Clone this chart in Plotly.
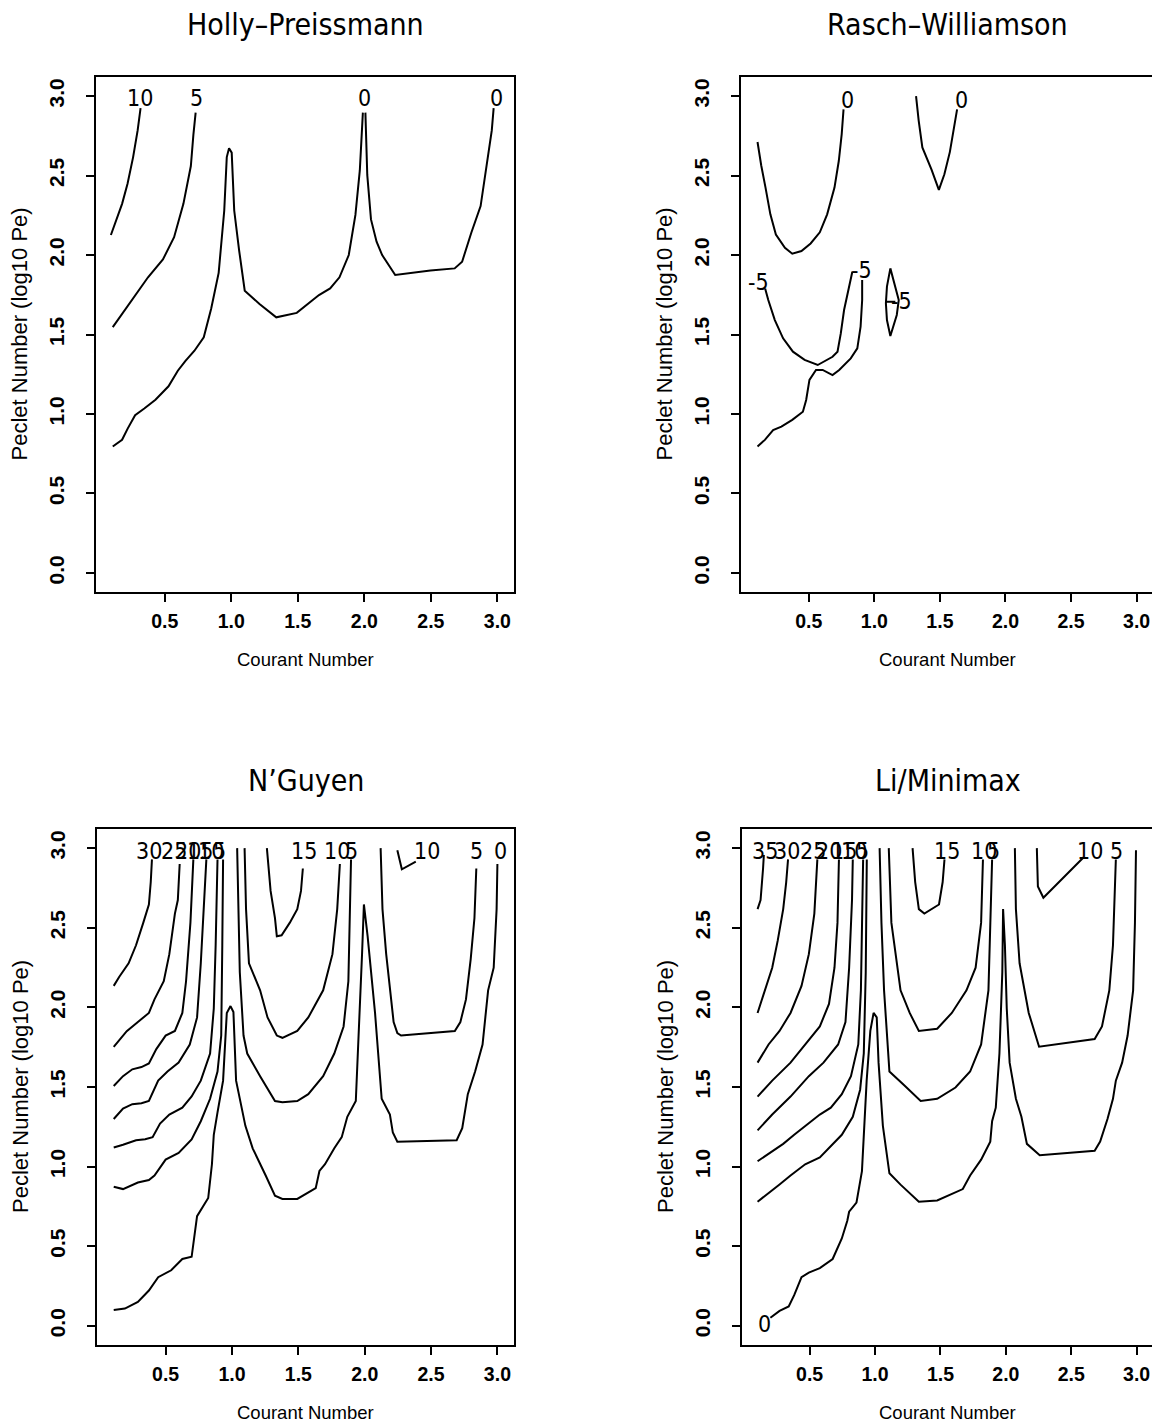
import plotly.graph_objects as go

# ---------------- data ----------------
X_TICKS = [0.5, 1.0, 1.5, 2.0, 2.5, 3.0]
Y_TICKS = [0.0, 0.5, 1.0, 1.5, 2.0, 2.5, 3.0]
TITLES = ["Holly\u2013Preissmann", "Rasch\u2013Williamson", "N\u2019Guyen", "Li/Minimax"]
X_TITLE = "Courant Number"
Y_TITLE = "Peclet Number (log10 Pe)"

# Panel 1: Holly-Preissmann
HP_10_X = [0.095, 0.179, 0.22, 0.262, 0.296, 0.318]
HP_10_Y = [2.126, 2.322, 2.448, 2.616, 2.784, 2.924]
HP_5_X = [0.109, 0.207, 0.374, 0.486, 0.57, 0.64, 0.696, 0.715, 0.732]
HP_5_Y = [1.546, 1.664, 1.86, 1.972, 2.112, 2.322, 2.56, 2.756, 2.896]
HP_0A_X = [0.109, 0.179, 0.221, 0.277, 0.346, 0.43, 0.528, 0.598, 0.654, 0.723, 0.793, 0.849, 0.905,
           0.947, 0.966, 0.983, 1.003, 1.022, 1.059, 1.101, 1.212, 1.338, 1.492, 1.575, 1.659, 1.743,
           1.813, 1.883, 1.933, 1.966, 1.989]
HP_0A_Y = [0.795, 0.838, 0.908, 0.992, 1.034, 1.09, 1.174, 1.272, 1.333, 1.398, 1.482, 1.664, 1.888,
           2.28, 2.616, 2.672, 2.644, 2.28, 2.028, 1.776, 1.692, 1.608, 1.636, 1.692, 1.748, 1.79,
           1.86, 2.0, 2.252, 2.532, 2.896]
HP_0B_X = [2.008, 2.022, 2.05, 2.092, 2.134, 2.232, 2.497, 2.679, 2.735, 2.804, 2.874, 2.916, 2.958, 2.972]
HP_0B_Y = [2.896, 2.504, 2.224, 2.084, 2.0, 1.874, 1.902, 1.916, 1.958, 2.14, 2.308, 2.532, 2.784, 2.924]
HP_LAB_T = ["10", "5", "0", "0"]
HP_LAB_X = [0.317, 0.735, 2.0, 2.99]
HP_LAB_Y = [2.985, 2.985, 2.985, 2.985]

# Panel 2: Rasch-Williamson
RW_0A_X = [0.109, 0.137, 0.17, 0.207, 0.249, 0.318, 0.374, 0.444, 0.514, 0.584, 0.64, 0.696, 0.729, 0.751, 0.765]
RW_0A_Y = [2.711, 2.565, 2.424, 2.256, 2.129, 2.045, 2.008, 2.025, 2.073, 2.143, 2.256, 2.424, 2.593, 2.761, 2.916]
RW_0B_X = [1.318, 1.338, 1.366, 1.436, 1.492, 1.534, 1.576, 1.603, 1.631]
RW_0B_Y = [3.0, 2.846, 2.677, 2.537, 2.41, 2.508, 2.649, 2.789, 2.916]
RW_M5A_X = [0.167, 0.191, 0.241, 0.304, 0.379, 0.468, 0.568, 0.681, 0.719, 0.744, 0.769, 0.794, 0.832]
RW_M5A_Y = [1.79, 1.717, 1.591, 1.476, 1.392, 1.34, 1.308, 1.36, 1.392, 1.507, 1.654, 1.759, 1.895]
RW_M5B_X = [0.109, 0.165, 0.228, 0.291, 0.374, 0.455, 0.48, 0.505, 0.555, 0.606, 0.681, 0.732, 0.82,
            0.87, 0.895, 0.907, 0.907]
RW_M5B_Y = [0.795, 0.837, 0.899, 0.92, 0.963, 1.014, 1.088, 1.214, 1.277, 1.277, 1.245, 1.277, 1.35,
            1.413, 1.549, 1.717, 1.843]
RW_M5C_X = [1.122, 1.096, 1.088, 1.096, 1.122, 1.146, 1.171, 1.186, 1.16, 1.122]
RW_M5C_Y = [1.916, 1.801, 1.696, 1.591, 1.491, 1.549, 1.623, 1.717, 1.801, 1.916]
RW_M5D_X = [1.083, 1.16]
RW_M5D_Y = [1.706, 1.706]
RW_LAB_T = ["0", "0", "-5", "-5", "-5"]
RW_LAB_X = [0.794, 1.661, 0.12, 0.9, 1.21]
RW_LAB_Y = [2.975, 2.975, 1.832, 1.906, 1.71]

# Panel 3: N'Guyen
NG_30_X = [0.109, 0.151, 0.221, 0.277, 0.332, 0.374, 0.388, 0.397]
NG_30_Y = [2.135, 2.192, 2.277, 2.39, 2.532, 2.646, 2.787, 2.929]
NG_25_X = [0.109, 0.207, 0.291, 0.374, 0.416, 0.486, 0.528, 0.57, 0.592, 0.606]
NG_25_Y = [1.752, 1.851, 1.908, 1.965, 2.05, 2.164, 2.334, 2.589, 2.674, 2.9]
NG_20_X = [0.109, 0.179, 0.249, 0.318, 0.374, 0.43, 0.5, 0.57, 0.626, 0.654, 0.687, 0.704, 0.709]
NG_20_Y = [1.506, 1.568, 1.611, 1.625, 1.648, 1.738, 1.823, 1.852, 1.965, 2.164, 2.532, 2.787, 2.929]
NG_15_X = [0.109, 0.179, 0.249, 0.318, 0.374, 0.444, 0.514, 0.598, 0.682, 0.737, 0.765, 0.788, 0.807]
NG_15_Y = [1.299, 1.364, 1.392, 1.398, 1.412, 1.54, 1.597, 1.653, 1.767, 1.937, 2.277, 2.674, 2.929]
NG_10_X = [0.109, 0.179, 0.277, 0.346, 0.402, 0.458, 0.528, 0.626, 0.696, 0.765, 0.835, 0.863, 0.877, 0.891]
NG_10_Y = [1.12, 1.137, 1.166, 1.172, 1.185, 1.27, 1.327, 1.37, 1.441, 1.54, 1.71, 1.993, 2.39, 2.929]
NG_5A_X = [0.109, 0.179, 0.291, 0.374, 0.416, 0.5, 0.598, 0.696, 0.765, 0.835, 0.891, 0.919, 0.927, 0.933]
NG_5A_Y = [0.874, 0.859, 0.9, 0.916, 0.944, 1.044, 1.086, 1.171, 1.285, 1.426, 1.597, 1.823, 2.39, 2.929]
NG_0_X = [0.109, 0.193, 0.291, 0.374, 0.444, 0.542, 0.626, 0.696, 0.737, 0.779, 0.821, 0.849, 0.863,
          0.891, 0.933, 0.961, 0.989, 1.011, 1.031, 1.101, 1.156, 1.254, 1.324, 1.38, 1.492, 1.631,
          1.659, 1.701, 1.771, 1.827, 1.869, 1.933, 1.953, 1.98, 1.994, 2.022, 2.078, 2.128, 2.19,
          2.212, 2.246, 2.693, 2.735, 2.777, 2.832, 2.888, 2.93, 2.972, 2.994, 3.0]
NG_0_Y = [0.1, 0.109, 0.15, 0.222, 0.306, 0.349, 0.42, 0.434, 0.689, 0.746, 0.803, 1.015, 1.2,
          1.341, 1.54, 1.965, 2.008, 1.971, 1.54, 1.256, 1.115, 0.944, 0.817, 0.797, 0.797, 0.865,
          0.973, 1.015, 1.115, 1.185, 1.313, 1.412, 1.781, 2.334, 2.646, 2.447, 1.965, 1.426, 1.327,
          1.214, 1.157, 1.166, 1.242, 1.455, 1.597, 1.767, 2.107, 2.249, 2.617, 2.9]
NG_5B_X = [1.039, 1.045, 1.059, 1.087, 1.115, 1.212, 1.324, 1.38, 1.492, 1.575, 1.687, 1.771, 1.841,
           1.877, 1.888, 1.897]
NG_5B_Y = [3.0, 2.674, 2.22, 1.823, 1.71, 1.568, 1.412, 1.404, 1.412, 1.455, 1.568, 1.71, 1.88,
           2.164, 2.532, 2.929]
NG_10B_X = [1.095, 1.106, 1.128, 1.212, 1.268, 1.338, 1.38, 1.492, 1.575, 1.687, 1.757, 1.793, 1.813]
NG_10B_Y = [3.0, 2.617, 2.277, 2.107, 1.937, 1.823, 1.809, 1.852, 1.937, 2.107, 2.334, 2.617, 2.9]
NG_15B_X = [1.263, 1.291, 1.324, 1.338, 1.374, 1.436, 1.492, 1.52, 1.534]
NG_15B_Y = [3.0, 2.731, 2.561, 2.447, 2.453, 2.532, 2.617, 2.731, 2.872]
NG_5C_X = [2.12, 2.134, 2.162, 2.19, 2.218, 2.246, 2.274, 2.679, 2.721, 2.763, 2.799, 2.827, 2.841]
NG_5C_Y = [3.0, 2.617, 2.334, 2.107, 1.908, 1.838, 1.823, 1.852, 1.908, 2.05, 2.305, 2.561, 2.872]
NG_10C_X = [2.246, 2.28, 2.385]
NG_10C_Y = [2.986, 2.867, 2.915]
NG_LAB_T = ["30", "25", "20", "15", "10", "5", "15", "10", "5", "10", "5", "0"]
NG_LAB_X = [0.375, 0.565, 0.665, 0.76, 0.84, 0.905, 1.545, 1.79, 1.9, 2.47, 2.84, 3.02]
NG_LAB_Y = [2.985] * 12

# Panel 4: Li/Minimax
LM_35_X = [0.102, 0.125, 0.144, 0.15]
LM_35_Y = [2.617, 2.674, 2.872, 2.957]
LM_30_X = [0.102, 0.158, 0.214, 0.256, 0.298, 0.321, 0.335]
LM_30_Y = [1.965, 2.107, 2.249, 2.419, 2.617, 2.787, 2.929]
LM_25_X = [0.102, 0.186, 0.27, 0.354, 0.438, 0.494, 0.536, 0.55, 0.559]
LM_25_Y = [1.653, 1.767, 1.852, 1.965, 2.135, 2.334, 2.589, 2.787, 2.929]
LM_20_X = [0.102, 0.214, 0.354, 0.494, 0.578, 0.648, 0.69, 0.713, 0.724]
LM_20_Y = [1.44, 1.54, 1.653, 1.795, 1.88, 2.022, 2.249, 2.532, 2.929]
LM_15_X = [0.102, 0.214, 0.354, 0.494, 0.606, 0.718, 0.774, 0.802, 0.824, 0.83]
LM_15_Y = [1.228, 1.327, 1.44, 1.568, 1.653, 1.767, 1.908, 2.249, 2.674, 2.929]
LM_10A_X = [0.102, 0.2, 0.298, 0.382, 0.466, 0.578, 0.662, 0.746, 0.816, 0.872, 0.892, 0.903, 0.909]
LM_10A_Y = [1.034, 1.086, 1.143, 1.2, 1.256, 1.327, 1.37, 1.455, 1.568, 1.767, 2.107, 2.532, 2.929]
LM_5A_X = [0.102, 0.186, 0.27, 0.354, 0.466, 0.578, 0.662, 0.746, 0.83, 0.886, 0.914, 0.929, 0.937]
LM_5A_Y = [0.78, 0.831, 0.888, 0.944, 1.015, 1.058, 1.129, 1.2, 1.313, 1.483, 1.71, 2.22, 2.929]
LM_0_X = [0.2, 0.27, 0.34, 0.382, 0.438, 0.494, 0.578, 0.676, 0.746, 0.788, 0.802, 0.858, 0.9, 0.92,
          0.936, 0.964, 0.989, 1.013, 1.027, 1.06, 1.11, 1.195, 1.335, 1.475, 1.671, 1.727, 1.811,
          1.881, 1.895, 1.923, 1.951, 1.973, 1.979, 1.993, 2.007, 2.029, 2.077, 2.119, 2.161, 2.259,
          2.679, 2.721, 2.777, 2.819, 2.841, 2.889, 2.931, 2.973, 2.987, 2.995]
LM_0_Y = [0.051, 0.094, 0.122, 0.193, 0.306, 0.335, 0.363, 0.42, 0.549, 0.66, 0.717, 0.774, 0.972,
          1.256, 1.54, 1.852, 1.965, 1.937, 1.653, 1.256, 0.958, 0.887, 0.78, 0.788, 0.859, 0.944,
          1.044, 1.157, 1.285, 1.37, 1.71, 2.22, 2.617, 2.39, 1.993, 1.653, 1.426, 1.313, 1.143,
          1.072, 1.1, 1.157, 1.299, 1.426, 1.54, 1.653, 1.823, 2.107, 2.532, 2.986]
LM_5B_X = [1.035, 1.049, 1.069, 1.11, 1.223, 1.349, 1.475, 1.615, 1.727, 1.811, 1.867, 1.881, 1.895]
LM_5B_Y = [3.0, 2.532, 2.107, 1.597, 1.511, 1.412, 1.426, 1.497, 1.597, 1.767, 2.107, 2.532, 2.929]
LM_10B_X = [1.105, 1.125, 1.195, 1.265, 1.335, 1.475, 1.587, 1.699, 1.769, 1.811, 1.825]
LM_10B_Y = [3.0, 2.532, 2.107, 1.965, 1.852, 1.866, 1.965, 2.107, 2.249, 2.532, 2.929]
LM_15B_X = [1.287, 1.307, 1.335, 1.377, 1.489, 1.517, 1.531]
LM_15B_Y = [3.0, 2.787, 2.617, 2.589, 2.646, 2.787, 2.929]
LM_5C_X = [2.069, 2.077, 2.105, 2.175, 2.254, 2.679, 2.735, 2.791, 2.819, 2.833, 2.841]
LM_5C_Y = [3.0, 2.617, 2.277, 1.965, 1.753, 1.801, 1.88, 2.107, 2.39, 2.674, 2.929]
LM_10C_X = [2.237, 2.245, 2.287, 2.595]
LM_10C_Y = [3.0, 2.759, 2.688, 2.943]
LM_LAB_T = ["35", "30", "25", "20", "15", "10", "5", "15", "10", "5", "10", "5", "0"]
LM_LAB_X = [0.16, 0.33, 0.525, 0.65, 0.76, 0.84, 0.905, 1.55, 1.83, 1.905, 2.64, 2.845, 0.158]
LM_LAB_Y = [2.985] * 12 + [0.014]

PANELS = [
    ([(HP_10_X, HP_10_Y), (HP_5_X, HP_5_Y), (HP_0A_X, HP_0A_Y), (HP_0B_X, HP_0B_Y)],
     (HP_LAB_T, HP_LAB_X, HP_LAB_Y)),
    ([(RW_0A_X, RW_0A_Y), (RW_0B_X, RW_0B_Y), (RW_M5A_X, RW_M5A_Y), (RW_M5B_X, RW_M5B_Y),
      (RW_M5C_X, RW_M5C_Y), (RW_M5D_X, RW_M5D_Y)],
     (RW_LAB_T, RW_LAB_X, RW_LAB_Y)),
    ([(NG_30_X, NG_30_Y), (NG_25_X, NG_25_Y), (NG_20_X, NG_20_Y), (NG_15_X, NG_15_Y),
      (NG_10_X, NG_10_Y), (NG_5A_X, NG_5A_Y), (NG_0_X, NG_0_Y), (NG_5B_X, NG_5B_Y),
      (NG_10B_X, NG_10B_Y), (NG_15B_X, NG_15B_Y), (NG_5C_X, NG_5C_Y), (NG_10C_X, NG_10C_Y)],
     (NG_LAB_T, NG_LAB_X, NG_LAB_Y)),
    ([(LM_35_X, LM_35_Y), (LM_30_X, LM_30_Y), (LM_25_X, LM_25_Y), (LM_20_X, LM_20_Y),
      (LM_15_X, LM_15_Y), (LM_10A_X, LM_10A_Y), (LM_5A_X, LM_5A_Y), (LM_0_X, LM_0_Y),
      (LM_5B_X, LM_5B_Y), (LM_10B_X, LM_10B_Y), (LM_15B_X, LM_15B_Y), (LM_5C_X, LM_5C_Y),
      (LM_10C_X, LM_10C_Y)],
     (LM_LAB_T, LM_LAB_X, LM_LAB_Y)),
]

# ---------------- layout ----------------
# the page body has an 8 px default margin, so the figure is drawn 8 px smaller
# and every page-pixel position below is shifted by OFF
OFF = 8
W, H = 1160 - OFF, 1427 - OFF
FONT = "Liberation Sans, Arial, Helvetica, sans-serif"
NARROW = "Liberation Sans Narrow, Arial Narrow, DejaVu Sans Condensed, sans-serif"
# plot boxes in page pixels: (left, right, top, bottom)
BOXES = [(96, 514, 77, 592), (741, 1153, 77, 592), (97, 514, 829, 1345), (742, 1153, 829, 1345)]
TITLE_Y = [25, 25, 780, 780]
XR = [-0.017, 3.125]
YR = [-0.12, 3.12]


def px(v):
    return (v - OFF) / W


def py(v):
    return 1 - (v - OFF) / H


fig = go.Figure()
annotations = []

for i, (lines, labels) in enumerate(PANELS):
    n = "" if i == 0 else str(i + 1)
    xa, ya = "x" + n, "y" + n
    l, r, t, b = BOXES[i]
    for xs, ys in lines:
        fig.add_trace(go.Scatter(x=xs, y=ys, mode="lines", xaxis=xa, yaxis=ya,
                                 line=dict(color="black", width=2), hoverinfo="skip",
                                 showlegend=False))
    for txt, lx, ly in zip(*labels):
        annotations.append(dict(x=lx, y=ly, xref=xa, yref=ya, text=txt, showarrow=False,
                                font=dict(family=NARROW, size=23, color="black"),
                                xanchor="center", yanchor="middle"))
    axis_common = dict(showline=True, mirror=True, linecolor="black", linewidth=2,
                       ticks="outside", ticklen=8, tickwidth=1.5, tickcolor="black",
                       showgrid=False, zeroline=False, fixedrange=True)
    fig.update_layout(**{
        "xaxis" + n: dict(domain=[px(l), px(r)], range=XR, anchor=ya,
                          tickvals=X_TICKS, ticktext=[f"<b>{v:.1f}</b>" for v in X_TICKS],
                          tickfont=dict(family=FONT, size=19.5, color="black"),
                          ticklabelstandoff=3, **axis_common),
        "yaxis" + n: dict(domain=[py(b), py(t)], range=YR, anchor=xa,
                          tickvals=Y_TICKS, ticktext=[f"<b>{v:.1f}</b>" for v in Y_TICKS],
                          tickangle=-90,
                          tickfont=dict(family=FONT, size=21, color="black"),
                          ticklabelstandoff=14, **axis_common),
    })
    cx = px((l + r) / 2)
    # panel title
    annotations.append(dict(x=cx, y=py(TITLE_Y[i]), xref="paper", yref="paper",
                            text=TITLES[i], showarrow=False,
                            font=dict(family=NARROW, size=30, color="black"),
                            xanchor="center", yanchor="middle"))
    # x axis title
    annotations.append(dict(x=cx, y=py(b + 67), xref="paper", yref="paper",
                            text=X_TITLE, showarrow=False,
                            font=dict(family=FONT, size=18.5, color="black"),
                            xanchor="center", yanchor="middle"))
    # y axis title
    annotations.append(dict(x=px(l - 77), y=py((t + b) / 2), xref="paper", yref="paper",
                            text=Y_TITLE, showarrow=False, textangle=-90,
                            font=dict(family=FONT, size=22, color="black"),
                            xanchor="center", yanchor="middle"))

fig.update_layout(width=W, height=H, margin=dict(l=0, r=0, t=0, b=0),
                  plot_bgcolor="white", paper_bgcolor="white", showlegend=False,
                  annotations=annotations)

fig.write_html("out.html")
